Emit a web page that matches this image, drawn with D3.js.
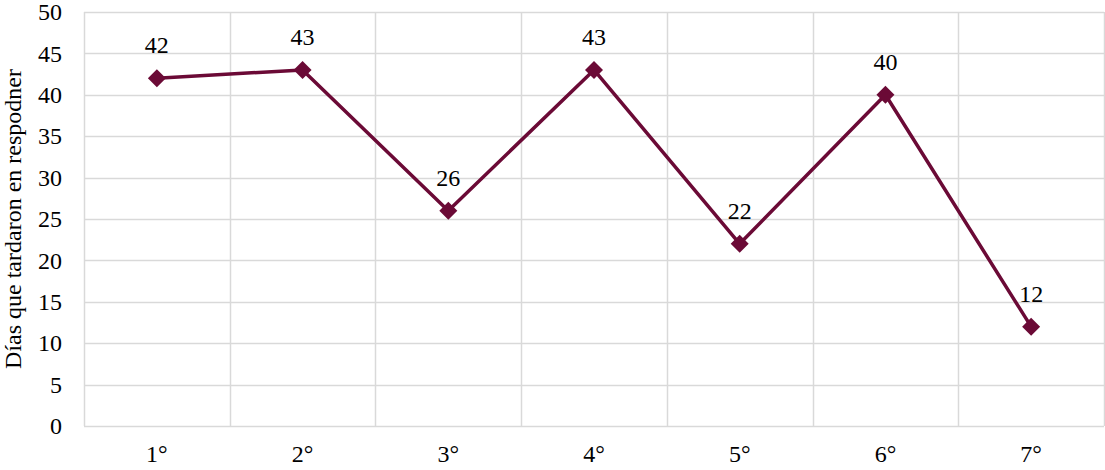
<!DOCTYPE html>
<html>
<head>
<meta charset="utf-8">
<script src="https://cdn.jsdelivr.net/npm/d3@7"></script>
<style>
  body { margin: 0; background: #fff; }
  svg text { font-family: "Liberation Serif", "Times New Roman", serif !important; }
</style>
</head>
<body>
<div id="chart"></div>
<script>
const categories = ['1°', '2°', '3°', '4°', '5°', '6°', '7°'];
const values = [42, 43, 26, 43, 22, 40, 12];
const yTicks = [0, 5, 10, 15, 20, 25, 30, 35, 40, 45, 50];
const yLabel = 'Días que tardaron en respodner';

const width = 1105, height = 470;
const margin = { top: 12, right: 1, bottom: 44, left: 84 };
const innerW = width - margin.left - margin.right;
const innerH = height - margin.top - margin.bottom;
const lineColor = '#6b0a36';
const gridColor = '#d9d9d9';
const font = '"Liberation Serif", "Times New Roman", serif';

const svg = d3.select('#chart')
    .append('svg')
    .attr('width', width)
    .attr('height', height)
    .attr('font-family', font);

const g = svg.append('g')
    .attr('transform', `translate(${margin.left}, ${margin.top})`);

const x = d3.scaleBand()
    .domain(categories)
    .range([0, innerW]);

const y = d3.scaleLinear()
    .domain([0, 50])
    .range([innerH, 0]);

// horizontal gridlines
g.append('g')
    .selectAll('line')
    .data(yTicks)
    .enter()
    .append('line')
    .attr('x1', 0)
    .attr('x2', innerW)
    .attr('y1', d => Math.round(y(d)) + 0.5)
    .attr('y2', d => Math.round(y(d)) + 0.5)
    .attr('stroke', gridColor)
    .attr('stroke-width', 1.5);

// vertical gridlines at category boundaries
const bounds = categories.map(c => x(c)).concat([innerW]);
g.append('g')
    .selectAll('line')
    .data(bounds)
    .enter()
    .append('line')
    .attr('x1', d => Math.round(d) + 0.5)
    .attr('x2', d => Math.round(d) + 0.5)
    .attr('y1', 0)
    .attr('y2', innerH)
    .attr('stroke', gridColor)
    .attr('stroke-width', 1.5);

// y axis labels
const yAxis = g.append('g')
    .call(d3.axisLeft(y).tickValues(yTicks).tickSize(0).tickPadding(22));
yAxis.attr('font-family', font).attr('font-size', 24);
yAxis.select('.domain').remove();
yAxis.selectAll('text')
    .attr('fill', '#000')
    .style('font-family', font);

// x axis labels
const xAxis = g.append('g')
    .attr('transform', `translate(0, ${innerH})`)
    .call(d3.axisBottom(x).tickSize(0).tickPadding(19));
xAxis.attr('font-family', font).attr('font-size', 24);
xAxis.select('.domain').remove();
xAxis.selectAll('text')
    .attr('fill', '#000')
    .style('font-family', font);

// y axis title
svg.append('text')
    .attr('transform', `translate(21, ${margin.top + innerH / 2}) rotate(-90)`)
    .attr('text-anchor', 'middle')
    .attr('font-size', 24)
    .style('font-family', font)
    .text(yLabel);

const cx = d => x(d.cat) + x.bandwidth() / 2;
const points = categories.map((cat, i) => ({ cat, value: values[i] }));

const line = d3.line()
    .x(cx)
    .y(d => y(d.value));

g.append('path')
    .datum(points)
    .attr('fill', 'none')
    .attr('stroke', lineColor)
    .attr('stroke-width', 3.5)
    .attr('stroke-linejoin', 'round')
    .attr('d', line);

// diamond markers
g.selectAll('.marker')
    .data(points)
    .enter()
    .append('path')
    .attr('class', 'marker')
    .attr('transform', d => `translate(${cx(d)}, ${y(d.value)})`)
    .attr('d', 'M0,-9L9,0L0,9L-9,0Z')
    .attr('fill', lineColor);

// data labels
g.selectAll('.label')
    .data(points)
    .enter()
    .append('text')
    .attr('class', 'label')
    .attr('x', cx)
    .attr('y', d => y(d.value) - 25)
    .attr('text-anchor', 'middle')
    .attr('font-size', 24)
    .style('font-family', font)
    .text(d => d.value);
</script>
</body>
</html>
